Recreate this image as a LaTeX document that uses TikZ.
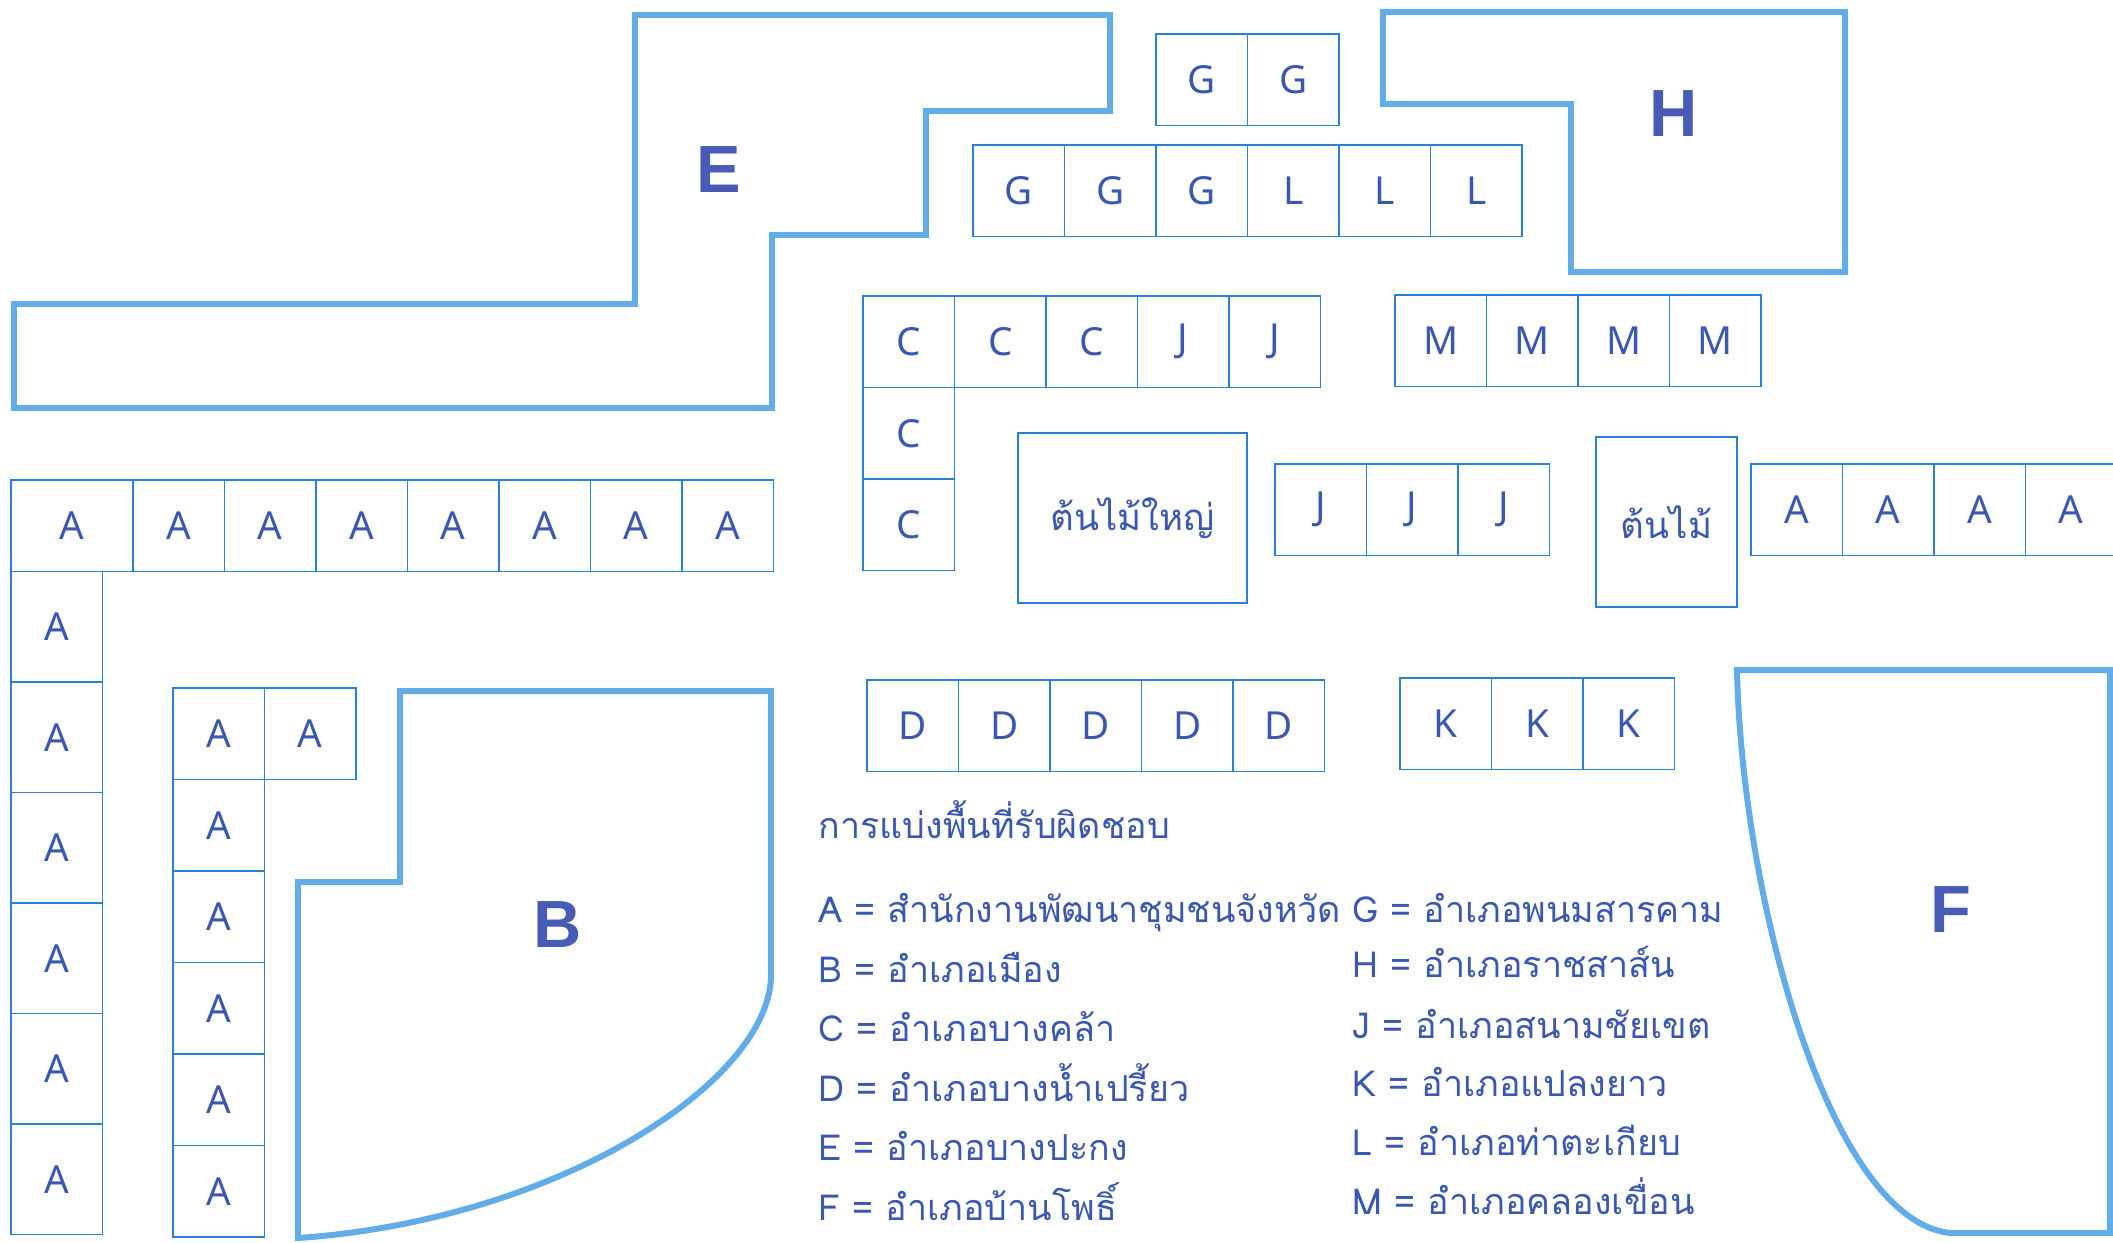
\documentclass[tikz,border=0pt]{standalone}
\usepackage{fontspec}
\setmainfont{Noto Sans}
\newfontfamily\thaifont[Script=Thai]{Loma}
\newfontfamily\tagfont{Liberation Sans}
\usepackage{tikz}
\usetikzlibrary{positioning}
\definecolor{zoneblue}{RGB}{98,172,232}
\definecolor{boxblue}{RGB}{40,128,215}
\definecolor{inkblue}{RGB}{58,88,178}
\definecolor{tagblue}{RGB}{72,92,182}

\begin{document}
\begin{tikzpicture}[x=0.1mm, y=-0.1mm,
  every node/.style={inner sep=0pt},
  cell/.style={rectangle, draw=boxblue, line width=0.55pt, minimum width=9.15mm,
               minimum height=9.15mm, outer sep=0pt, text=inkblue,
               font=\fontsize{11}{13}\selectfont},
  tallcell/.style={cell, minimum height=11.05mm},
  tree/.style={cell, minimum height=17mm, font=\thaifont\fontsize{10.4}{12}\selectfont},
  zone/.style={draw=zoneblue, line width=1.7pt, line join=miter},
  tag/.style={text=tagblue, font=\tagfont\bfseries\fontsize{19}{22}\selectfont},
  key/.style={anchor=base west, text=inkblue, font=\thaifont\fontsize{10.2}{12}\selectfont},
]
\fill[white] (0,0) rectangle (2113,1242);
\useasboundingbox (0,0) rectangle (2113,1242);

% large areas
\draw[zone] (635,15) -- (1110,15) -- (1110,111) -- (926,111) -- (926,235) -- (772,235)
  -- (772,408) -- (14,408) -- (14,304) -- (635,304) -- cycle;
\draw[zone] (1383,12) -- (1845,12) -- (1845,272) -- (1571,272) -- (1571,104) -- (1383,104) -- cycle;
\draw[zone] (400,691) -- (771,691) -- (771,975) .. controls (771,1080) and (560,1220) .. (298,1238)
  -- (298,882) -- (400,882) -- cycle;
\draw[zone] (1737,670) -- (2110,670) -- (2110,1233) -- (1950,1233)
  .. controls (1830,1220) and (1742,900) .. (1737,670) -- cycle;
\node[tag] (tagE) at (719,170) {E};
\node[tag] (tagH) at (1674,114) {H};
\node[tag] (tagB) at (558,925) {B};
\node[tag] (tagF) at (1951,910) {F};

% G and L
\node[cell, anchor=north west] (ga) at (1156,34) {G};
\node[cell, right=0pt of ga] (gb) {G};
\node[cell, anchor=north west] (gl1) at (973,145) {G};
\node[cell, right=0pt of gl1] (gl2) {G};
\node[cell, right=0pt of gl2] (gl3) {G};
\node[cell, right=0pt of gl3] (gl4) {L};
\node[cell, right=0pt of gl4] (gl5) {L};
\node[cell, right=0pt of gl5] (gl6) {L};

% C and J
\node[cell, anchor=north west] (cj1) at (863,296) {C};
\node[cell, right=0pt of cj1] (cj2) {C};
\node[cell, right=0pt of cj2] (cj3) {C};
\node[cell, right=0pt of cj3] (cj4) {J};
\node[cell, right=0pt of cj4] (cj5) {J};
\node[cell, below=0pt of cj1] (c6) {C};
\node[cell, below=0pt of c6] (c7) {C};

% M
\node[cell, anchor=north west] (m1) at (1395,295) {M};
\node[cell, right=0pt of m1] (m2) {M};
\node[cell, right=0pt of m2] (m3) {M};
\node[cell, right=0pt of m3] (m4) {M};

% trees, J, right A
\node[tree, minimum width=22.9mm, anchor=north west] (bigtree) at (1018,433) {ต้นไม้ใหญ่};
\node[cell, anchor=north west] (j6) at (1275,464) {J};
\node[cell, right=0pt of j6] (j7) {J};
\node[cell, right=0pt of j7] (j8) {J};
\node[tree, minimum width=14.1mm, anchor=north west] (smalltree) at (1596,437) {ต้นไม้};
\node[cell, anchor=north west] (ar1) at (1751,464) {A};
\node[cell, right=0pt of ar1] (ar2) {A};
\node[cell, right=0pt of ar2] (ar3) {A};
\node[cell, right=0pt of ar3] (ar4) {A};

% D and K
\node[cell, anchor=north west] (d1) at (867,680) {D};
\node[cell, right=0pt of d1] (d2) {D};
\node[cell, right=0pt of d2] (d3) {D};
\node[cell, right=0pt of d3] (d4) {D};
\node[cell, right=0pt of d4] (d5) {D};
\node[cell, anchor=north west] (k1) at (1400,678) {K};
\node[cell, right=0pt of k1] (k2) {K};
\node[cell, right=0pt of k2] (k3) {K};

% A, left side
\node[cell, minimum width=12.2mm, anchor=north west] (at1) at (11,480) {A};
\node[cell, right=0pt of at1] (at2) {A};
\node[cell, right=0pt of at2] (at3) {A};
\node[cell, right=0pt of at3] (at4) {A};
\node[cell, right=0pt of at4] (at5) {A};
\node[cell, right=0pt of at5] (at6) {A};
\node[cell, right=0pt of at6] (at7) {A};
\node[cell, right=0pt of at7] (at8) {A};
\node[tallcell, anchor=north west] (ac1) at (at1.south west) {A};
\node[tallcell, below=0pt of ac1] (ac2) {A};
\node[tallcell, below=0pt of ac2] (ac3) {A};
\node[tallcell, below=0pt of ac3] (ac4) {A};
\node[tallcell, below=0pt of ac4] (ac5) {A};
\node[tallcell, below=0pt of ac5] (ac6) {A};
\node[cell, anchor=north west] (ai1) at (173,688) {A};
\node[cell, right=0pt of ai1] (ai2) {A};
\node[cell, below=0pt of ai1] (ai3) {A};
\node[cell, below=0pt of ai3] (ai4) {A};
\node[cell, below=0pt of ai4] (ai5) {A};
\node[cell, below=0pt of ai5] (ai6) {A};
\node[cell, below=0pt of ai6] (ai7) {A};

% legend
\node[key] (title) at (818,838) {การแบ่งพื้นที่รับผิดชอบ};
\node[key] (ka) at (818,922) {A = สำนักงานพัฒนาชุมชนจังหวัด};
\node[key] (kb) at (818,982) {B = อำเภอเมือง};
\node[key] (kc) at (818,1041) {C = อำเภอบางคล้า};
\node[key] (kd) at (818,1101) {D = อำเภอบางน้ำเปรี้ยว};
\node[key] (ke) at (818,1160) {E = อำเภอบางปะกง};
\node[key] (kf) at (818,1220) {F = อำเภอบ้านโพธิ์};
\node[key] (kg) at (1352,922) {G = อำเภอพนมสารคาม};
\node[key] (kh) at (1352,977) {H = อำเภอราชสาส์น};
\node[key] (kj) at (1352,1038) {J = อำเภอสนามชัยเขต};
\node[key] (kk) at (1352,1096) {K = อำเภอแปลงยาว};
\node[key] (kl) at (1352,1155) {L = อำเภอท่าตะเกียบ};
\node[key] (km) at (1352,1214) {M = อำเภอคลองเขื่อน};
\end{tikzpicture}
\end{document}
